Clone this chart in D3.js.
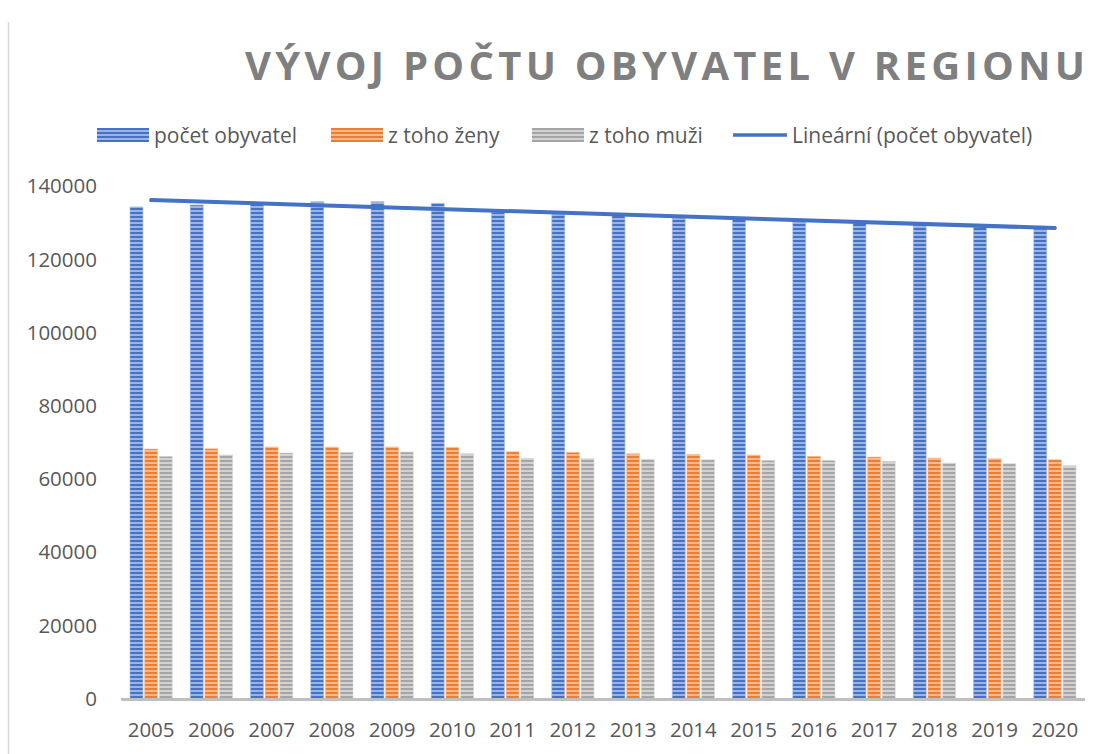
<!DOCTYPE html>
<html>
<head>
<meta charset="utf-8">
<script src="https://cdn.jsdelivr.net/npm/d3@7"></script>
<style>
  body { margin: 0; background: #fff; }
  svg { display: block; font-family: "Open Sans", sans-serif; }
</style>
</head>
<body>
<div id="chart"></div>
<script>
// Data
const years = ["2005", "2006", "2007", "2008", "2009", "2010", "2011", "2012",
               "2013", "2014", "2015", "2016", "2017", "2018", "2019", "2020"];
const total = [134270, 134800, 135250, 135700, 135700, 135280, 132800, 132270,
               131900, 131450, 131000, 130530, 129900, 129370, 128900, 128260];
const women = [68140, 68220, 68680, 68680, 68680, 68590, 67410, 67220,
               66860, 66670, 66500, 66130, 65940, 65670, 65500, 65220];
const men = [66130, 66500, 67050, 67220, 67320, 66860, 65580, 65500,
             65310, 65220, 65030, 65030, 64760, 64300, 64130, 63580];
const seriesNames = ["počet obyvatel", "z toho ženy", "z toho muži"];
const trendName = "Lineární (počet obyvatel)";
const yTicks = [0, 20000, 40000, 60000, 80000, 100000, 120000, 140000];
const title = "VÝVOJ POČTU OBYVATEL V REGIONU";

const width = 1102;
const height = 754;
const margin = {left: 121, right: 17, top: 186, bottom: 55};
const textColor = "#595959";

// dark / light stripe colours of each series
const stripes = [
    {id: "pat-blue", dark: "#4472c4", light: "#9db4e2"},
    {id: "pat-orange", dark: "#ed7d31", light: "#f6b88c"},
    {id: "pat-gray", dark: "#a5a5a5", light: "#d2d2d2"}
];

const svg = d3.select("#chart").append("svg")
    .attr("width", width)
    .attr("height", height);

// Horizontal stripe patterns like the Excel pattern fill
const defs = svg.append("defs");
stripes.forEach(s => {
    const p = defs.append("pattern")
        .attr("id", s.id)
        .attr("patternUnits", "userSpaceOnUse")
        .attr("width", 4)
        .attr("height", 4);
    p.append("rect").attr("width", 4).attr("height", 4).attr("fill", s.light);
    p.append("rect").attr("width", 4).attr("height", 2).attr("fill", s.dark);
});

// Chart frame edge on the left
svg.append("line")
    .attr("x1", 8.5).attr("x2", 8.5)
    .attr("y1", 22).attr("y2", height)
    .attr("stroke", "#d9d9d9")
    .attr("stroke-width", 1.5);

// Scales
const x = d3.scaleBand()
    .domain(years)
    .range([margin.left, width - margin.right])
    .paddingInner(0.3)
    .paddingOuter(0.15);

const x1 = d3.scaleBand()
    .domain(d3.range(3))
    .range([0, x.bandwidth()])
    .paddingInner(0.12);

const y = d3.scaleLinear()
    .domain([0, 140000])
    .range([698.5, margin.top]);

// Title
svg.append("text")
    .attr("x", 245)
    .attr("y", 80)
    .attr("textLength", 840)
    .attr("lengthAdjust", "spacing")
    .attr("font-size", 40)
    .attr("font-weight", "bold")
    .attr("fill", "#7f7f7f")
    .text(title);

// Y axis labels (no gridlines in the original)
svg.append("g")
    .selectAll("text")
    .data(yTicks)
    .join("text")
    .attr("x", 97)
    .attr("y", d => y(d))
    .attr("dy", "0.36em")
    .attr("text-anchor", "end")
    .attr("font-size", 20.5)
    .attr("fill", textColor)
    .text(d => d);

// Bars
const table = years.map((yr, i) => ({year: yr, values: [total[i], women[i], men[i]]}));

const groups = svg.append("g")
    .selectAll("g")
    .data(table)
    .join("g")
    .attr("transform", d => `translate(${x(d.year)},0)`);

groups.selectAll("rect")
    .data(d => d.values.map((v, k) => ({k, v})))
    .join("rect")
    .attr("x", d => x1(d.k))
    .attr("y", d => y(d.v))
    .attr("width", x1.bandwidth())
    .attr("height", d => y(0) - y(d.v))
    .attr("fill", d => `url(#${stripes[d.k].id})`)
    .attr("stroke", d => stripes[d.k].light)
    .attr("stroke-opacity", 0.6)
    .attr("stroke-width", 1);

// Category axis line and labels
svg.append("line")
    .attr("x1", margin.left)
    .attr("x2", width - margin.right)
    .attr("y1", 699.5)
    .attr("y2", 699.5)
    .attr("stroke", "#bfbfbf")
    .attr("stroke-width", 3);

svg.append("g")
    .selectAll("text")
    .data(years)
    .join("text")
    .attr("x", d => x(d) + x.bandwidth() / 2)
    .attr("y", 737)
    .attr("text-anchor", "middle")
    .attr("font-size", 20.5)
    .attr("fill", textColor)
    .text(d => d);

// Linear trend of the total (least squares)
const idx = d3.range(total.length);
const mx = d3.mean(idx);
const my = d3.mean(total);
const slope = d3.sum(idx, i => (i - mx) * (total[i] - my)) / d3.sum(idx, i => (i - mx) ** 2);
const icept = my - slope * mx;
const trend = [0, total.length - 1].map(i => [years[i], icept + slope * i]);

svg.append("path")
    .datum(trend)
    .attr("fill", "none")
    .attr("stroke", "#4472c4")
    .attr("stroke-width", 4)
    .attr("stroke-linecap", "round")
    .attr("d", d3.line()
        .x(d => x(d[0]) + x.bandwidth() / 2)
        .y(d => y(d[1])));

// Legend
const legendItems = [
    {name: seriesNames[0], kind: "bar", k: 0, x: 97},
    {name: seriesNames[1], kind: "bar", k: 1, x: 331},
    {name: seriesNames[2], kind: "bar", k: 2, x: 532},
    {name: trendName, kind: "line", x: 733}
];

const legend = svg.append("g")
    .selectAll("g")
    .data(legendItems)
    .join("g")
    .attr("transform", d => `translate(${d.x},128)`);

legend.filter(d => d.kind === "bar")
    .append("rect")
    .attr("width", 52)
    .attr("height", 14)
    .attr("fill", d => `url(#${stripes[d.k].id})`);

legend.filter(d => d.kind === "line")
    .append("line")
    .attr("x1", 0).attr("x2", 54)
    .attr("y1", 7).attr("y2", 7)
    .attr("stroke", "#4472c4")
    .attr("stroke-width", 3.5);

legend.append("text")
    .attr("x", d => d.kind === "line" ? 59 : 57)
    .attr("y", 7)
    .attr("dy", "0.36em")
    .attr("font-size", 21)
    .attr("fill", textColor)
    .text(d => d.name);
</script>
</body>
</html>
